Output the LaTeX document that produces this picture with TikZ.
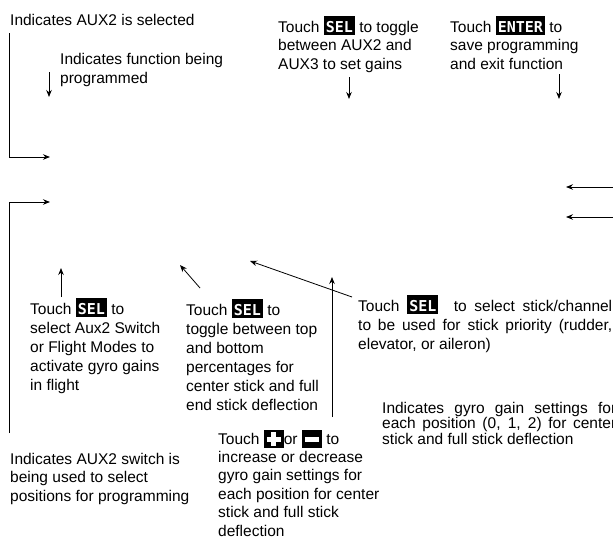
\documentclass[tikz,border=0pt]{standalone}
\usepackage{fontspec}
\setmainfont{Liberation Sans}
\setmonofont{DejaVu Sans Mono}
\usepackage{xcolor}
\usetikzlibrary{positioning,arrows.meta}
% black keys of the transmitter, as printed in the text
\newcommand{\lcdkey}[1]{{\setlength{\fboxsep}{2pt}\colorbox{black}{\rule[-0.5pt]{0pt}{15pt}\textcolor{white}{\ttfamily\bfseries\fontsize{15}{15}\selectfont #1}}}}
\newcommand{\plusicon}{{\setlength{\fboxsep}{0pt}\raisebox{-4pt}{\colorbox{black}{\makebox[20pt]{\rule{0pt}{18pt}\textcolor{white}{\makebox[0pt]{\rule[6.5pt]{14pt}{5pt}}\makebox[0pt]{\rule[2pt]{5pt}{14pt}}}}}}}}
\newcommand{\minusicon}{{\setlength{\fboxsep}{0pt}\raisebox{-4pt}{\colorbox{black}{\makebox[20pt]{\rule{0pt}{18pt}\textcolor{white}{\makebox[0pt]{\rule[6.5pt]{14pt}{5pt}}}}}}}}
\begin{document}
\begin{tikzpicture}[x=1pt,y=-1pt,
  note/.style={anchor=base west,inner sep=0pt,align=left,font=\fontsize{15.5}{18.5}\selectfont},
  arr/.style={-{Stealth[length=7pt,width=5.5pt]},line width=0.8pt}
]
\useasboundingbox (0,0) rectangle (613,541);
% callout texts (placed at the baseline of their last line)
\node[note] (auxsel) at (10,25) {Indicates AUX2 is selected};
\node[note] (funcprog) at (60,83) {Indicates function being\\programmed};
\node[note] (toggleaux) at (278,69) {Touch \lcdkey{SEL} to toggle\\between AUX2 and\\AUX3 to set gains};
\node[note] (saveexit) at (450,69) {Touch \lcdkey{ENTER} to\\save programming\\and exit function};
\node[note,font=\fontsize{15.5}{19}\selectfont] (selmode) at (30,390) {Touch \lcdkey{SEL} to\\select Aux2 Switch\\or Flight Modes to\\activate gyro gains\\in flight};
\node[note,font=\fontsize{15.5}{19}\selectfont] (selpct) at (186,410) {Touch \lcdkey{SEL} to\\toggle between top\\and bottom\\percentages for\\center stick and full\\end stick deflection};
\node[note,font=\fontsize{15.5}{19}\selectfont] (selstick) at (358,349) {\makebox[254pt][s]{Touch \lcdkey{SEL}\ \ to select stick/channel}\\\makebox[254pt][s]{to be used for stick priority (rudder,}\\elevator, or aileron)};
\node[note,font=\fontsize{15.5}{15.5}\selectfont] (gyroset) at (382,444) {\makebox[234pt][s]{Indicates gyro gain settings for}\\\makebox[234pt][s]{each position (0, 1, 2) for center}\\stick and full stick deflection};
\node[note] (switchpos) at (10,501) {Indicates AUX2 switch is\\being used to select\\positions for programming};
\node[note,font=\fontsize{15.5}{18.4}\selectfont] (plusminus) at (218,536) {Touch \plusicon{}or \minusicon{} to\\increase or decrease\\gyro gain settings for\\each position for center\\stick and full stick\\deflection};
% arrow ends
\coordinate (auxtop) at (9,33);
\coordinate (auxtip) at (50,157);
\coordinate (swbot) at (9,433);
\coordinate (swtip) at (50,202);
\coordinate (funcfrom) at (49,72);
\coordinate (functip) at (49,97);
\coordinate (togfrom) at (349,77);
\coordinate (togtip) at (349,99);
\coordinate (entfrom) at (559,74);
\coordinate (enttip) at (559,99);
\coordinate (gyrofromA) at (613,187);
\coordinate (gyrotipA) at (566,187);
\coordinate (gyrofromB) at (613,217);
\coordinate (gyrotipB) at (566,217);
\coordinate (modefrom) at (61,297);
\coordinate (modetip) at (61,268);
\coordinate (pctfrom) at (200,288);
\coordinate (pcttip) at (180,265);
\coordinate (stickfrom) at (352,297);
\coordinate (sticktip) at (250,261);
\coordinate (pmfrom) at (332,417);
\coordinate (pmtip) at (332,277);
% arrows
\draw[arr] (auxtop) |- (auxtip);
\draw[arr] (swbot) |- (swtip);
\draw[arr] (funcfrom) -- (functip);
\draw[arr] (togfrom) -- (togtip);
\draw[arr] (entfrom) -- (enttip);
\draw[arr] (gyrofromA) -- (gyrotipA);
\draw[arr] (gyrofromB) -- (gyrotipB);
\draw[arr] (modefrom) -- (modetip);
\draw[arr] (pctfrom) -- (pcttip);
\draw[arr] (stickfrom) -- (sticktip);
\draw[arr] (pmfrom) -- (pmtip);
\end{tikzpicture}
\end{document}
